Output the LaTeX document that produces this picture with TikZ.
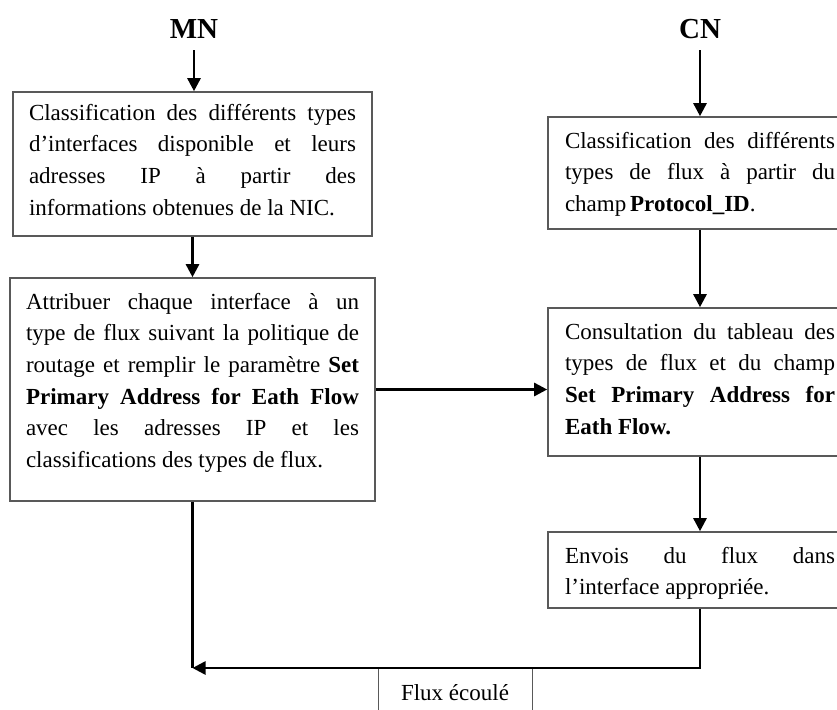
\documentclass[tikz,border=0pt]{standalone}
\usepackage{fontspec}
\setmainfont{Liberation Serif}
\usetikzlibrary{arrows.meta}
\newcommand{\linestrut}{\vrule height 17pt depth 6pt width 0pt}
\newcommand{\jl}[1]{\hbox to \hsize{\linestrut#1}}
\newcommand{\lastline}[1]{\hbox to \hsize{\linestrut#1\hfil}}
% [#1] top gap, #2 text width, #3 box height, #4 lines
\newcommand{\textlines}[4][14pt]{\vbox to #3{\hsize=#2\relax\kern#1 #4\vfil}}
\begin{document}
\begin{tikzpicture}[x=1pt,y=-1pt,
  box/.style={draw=black!65, line width=1.6pt, fill=white,
    font=\fontsize{23}{31.7}\selectfont, inner xsep=0pt, inner ysep=0pt},
  arr/.style={line width=2.6pt, -{Triangle[length=13pt,width=13pt]}},
  plain/.style={line width=2.6pt},
  title/.style={font=\fontsize{29}{32}\selectfont\bfseries, inner xsep=2pt, inner ysep=11.4pt}]
\useasboundingbox (0,0) rectangle (837,709);
\clip (0,0) rectangle (837,709);

\node[title] (mn) at (194,29) {MN};
\node[title] (cn) at (700,29) {CN};

\node[box, minimum width=359pt] (b1) at (192.5,164) {\textlines[11pt]{327pt}{144pt}{%
\jl{Classification des différents types}
\jl{d’interfaces disponible et leurs}
\jl{adresses IP à partir des}
\lastline{informations obtenues de la NIC.}}};

\node[box, minimum width=365pt] (b2) at (192.5,389.5) {\textlines{333pt}{223pt}{%
\jl{Attribuer chaque interface à un}
\jl{type de flux suivant la politique de}
\jl{routage et remplir le paramètre \textbf{Set}}
\jl{\textbf{Primary Address for Eath Flow}}
\jl{avec les adresses IP et les}
\lastline{classifications des types de flux.}}};

\node[box, minimum width=304pt] (r1) at (700,173) {\textlines{270pt}{112pt}{%
\jl{Classification des différents}
\jl{types de flux à partir du}
\lastline{champ\,\textbf{Protocol\_ID}.}}};

\node[box, minimum width=304pt] (r2) at (700,382) {\textlines{270pt}{148pt}{%
\jl{Consultation du tableau des}
\jl{types de flux et du champ}
\jl{\textbf{Set Primary Address for}}
\lastline{\textbf{Eath Flow.}}}};

\node[box, minimum width=304pt] (r3) at (700,570) {\textlines{270pt}{76pt}{%
\jl{Envois du flux dans}
\lastline{l’interface appropriée.}}};

\node[draw=black!65, line width=1pt, minimum width=154pt, minimum height=48pt,
  anchor=north, font=\fontsize{23}{26}\selectfont] (flux) at (455,668) {Flux écoulé};

\coordinate (join) at (b2.south |- flux.north);

\draw[arr] (mn.south) -- (mn.south |- b1.north);
\draw[arr] (b1.south) -- (b2.north);
\draw[arr] (b2.east) -- (b2.east -| r2.west);
\draw[arr] (cn.south) -- (cn.south |- r1.north);
\draw[arr] (r1.south) -- (r2.north);
\draw[arr] (r2.south) -- (r3.north);
\draw[plain] (b2.south) -- (join);
\draw[arr] (r3.south) -- (r3.south |- flux.north) -- (join);
\end{tikzpicture}
\end{document}
